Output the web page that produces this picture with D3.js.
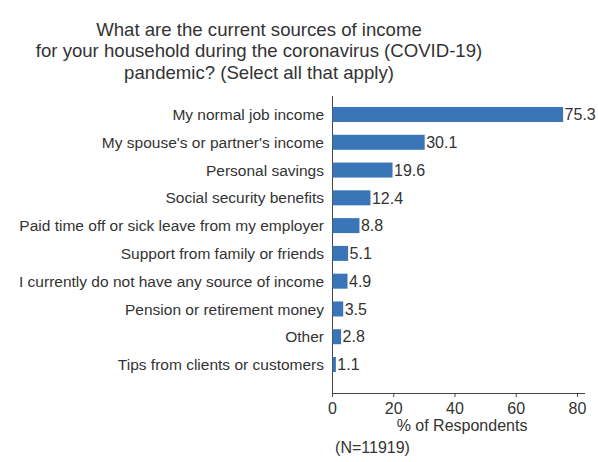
<!DOCTYPE html>
<html><head><meta charset="utf-8">
<script src="https://cdn.jsdelivr.net/npm/d3@7"></script>
<style>body{margin:0;background:#fff}svg{font-family:"Liberation Sans",Arial,sans-serif}</style>
</head><body><svg id="c" width="598" height="462"></svg>
<script>
const categories = ["My normal job income","My spouse's or partner's income","Personal savings","Social security benefits","Paid time off or sick leave from my employer","Support from family or friends","I currently do not have any source of income","Pension or retirement money","Other","Tips from clients or customers"];
const values = [75.3,30.1,19.6,12.4,8.8,5.1,4.9,3.5,2.8,1.1];
const ticks = [0,20,40,60,80];
const titleLines = ["What are the current sources of income","for your household during the coronavirus (COVID-19)","pandemic? (Select all that apply)"];

const svg = d3.select("#c");
const txt = "#333";
const x = d3.scaleLinear().domain([0,80]).range([332,577]);
const y = d3.scaleBand().domain(categories).range([107,372]).paddingInner(0.46);

svg.selectAll("text.title").data(titleLines).join("text").attr("class","title")
  .attr("x",259).attr("y",(d,i)=>36+i*21.3).attr("text-anchor","middle")
  .attr("font-size",18.6).attr("fill",txt).text(d=>d);

// y axis line
svg.append("line").attr("x1",332.5).attr("x2",332.5).attr("y1",96).attr("y2",393).attr("stroke","#444").attr("stroke-width",1);

svg.selectAll("rect.bar").data(values).join("rect")
  .attr("x",x(0)+0.5).attr("y",(d,i)=>y(categories[i]))
  .attr("width",d=>x(d)-x(0)).attr("height",y.bandwidth())
  .attr("fill","#3a75b8");

svg.selectAll("text.cat").data(categories).join("text")
  .attr("x",324).attr("y",d=>y(d)+y.bandwidth()/2).attr("dy","0.36em")
  .attr("text-anchor","end").attr("font-size",15.5).attr("fill",txt).text(d=>d);

svg.selectAll("text.val").data(values).join("text")
  .attr("x",d=>x(d)+2).attr("y",(d,i)=>y(categories[i])+y.bandwidth()/2).attr("dy","0.36em")
  .attr("font-size",16).attr("fill",txt).text(d=>d.toFixed(1));

const ax = svg.append("g").attr("transform","translate(0,393)")
  .call(d3.axisBottom(x).tickValues(ticks).tickSize(4).tickSizeOuter(0).tickPadding(6));
ax.select(".domain").attr("stroke","#444").attr("d","M332,0.5H585");
ax.selectAll(".tick line").attr("stroke","#444");
ax.selectAll(".tick text").attr("font-size",16).attr("fill",txt).attr("font-family","Liberation Sans, Arial, sans-serif");

svg.append("text").attr("x",462).attr("y",431).attr("text-anchor","middle").attr("font-size",16).attr("fill",txt).text("% of Respondents");
svg.append("text").attr("x",372.5).attr("y",453).attr("text-anchor","middle").attr("font-size",16).attr("fill",txt).text("(N=11919)");
</script></body></html>
